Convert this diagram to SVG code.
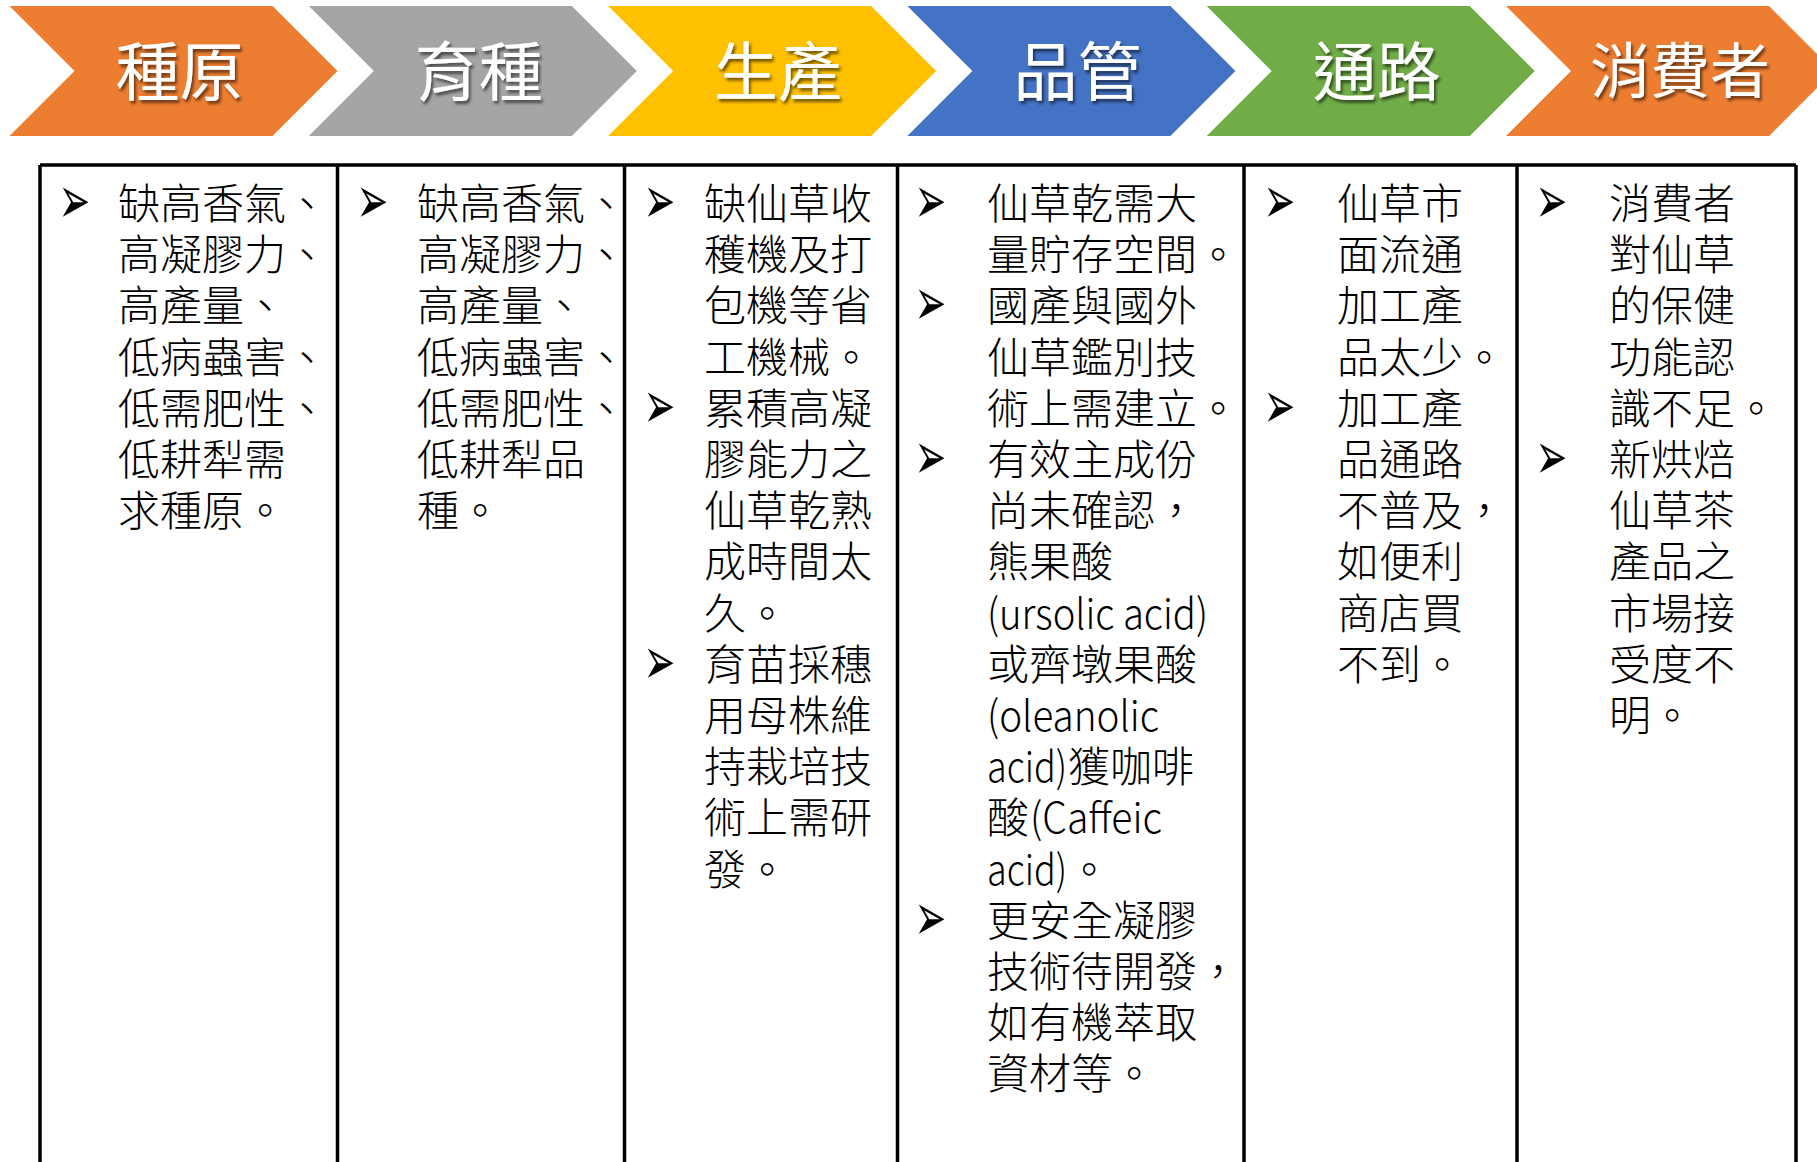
<svg xmlns="http://www.w3.org/2000/svg" width="1817" height="1162" viewBox="0 0 1817 1162">
<defs>
<filter id="sh" x="-10%" y="-10%" width="130%" height="140%">
<feDropShadow dx="2" dy="3" stdDeviation="1.5" flood-color="#000" flood-opacity="0.55"/>
</filter>
</defs>
<style>
.lbl{font-family:"Noto Sans CJK TC","Noto Sans CJK SC",sans-serif;font-size:64px;fill:#fff;text-anchor:middle;filter:url(#sh)}
.t{font-family:"Noto Sans CJK TC","Noto Sans CJK SC",sans-serif;font-size:42px;font-weight:300;fill:#000}
.b{font-family:"DejaVu Sans",sans-serif;font-size:38px;fill:#000}
.grid{stroke:#000;stroke-width:3.5;fill:none}
</style>
<rect width="1817" height="1162" fill="#fff"/>
<g id="stage-1"><path d="M9.5,6 H272.5 L337.5,71 L272.5,136 H9.5 L74.5,71 Z" fill="#ED7D31"/><text class="lbl" x="179.5" y="95">種原</text></g>
<g id="stage-2"><path d="M308.8,6 H571.8 L636.8,71 L571.8,136 H308.8 L373.8,71 Z" fill="#A5A5A5"/><text class="lbl" x="478.8" y="95">育種</text></g>
<g id="stage-3"><path d="M608.1,6 H871.1 L936.1,71 L871.1,136 H608.1 L673.1,71 Z" fill="#FFC000"/><text class="lbl" x="778.1" y="95">生產</text></g>
<g id="stage-4"><path d="M907.4,6 H1170.4 L1235.4,71 L1170.4,136 H907.4 L972.4,71 Z" fill="#4472C4"/><text class="lbl" x="1077.4" y="95">品管</text></g>
<g id="stage-5"><path d="M1206.7,6 H1469.7 L1534.7,71 L1469.7,136 H1206.7 L1271.7,71 Z" fill="#70AD47"/><text class="lbl" x="1376.7" y="95">通路</text></g>
<g id="stage-6"><path d="M1506,6 H1769 L1834,71 L1769,136 H1506 L1571,71 Z" fill="#ED7D31"/><text class="lbl" x="1680" y="93" style="font-size:60px">消費者</text></g>
<g id="connectors"></g>
<g id="table-grid" class="grid">
<path d="M40,165 H1796"/>
<path d="M40,165 V1162 M337.5,165 V1162 M624.5,165 V1162 M897.5,165 V1162 M1244,165 V1162 M1517,165 V1162 M1796,165 V1162"/>
</g>
<g id="col-1">
<text class="b" transform="translate(58.5,222.8) scale(1,1.75)">➢</text>
<text class="t"><tspan x="118" y="219">缺高香氣、</tspan><tspan x="118" y="270.2">高凝膠力、</tspan><tspan x="118" y="321.4">高產量、</tspan><tspan x="118" y="372.6">低病蟲害、</tspan><tspan x="118" y="423.8">低需肥性、</tspan><tspan x="118" y="475">低耕犁需</tspan><tspan x="118" y="526.2">求種原。</tspan></text>
</g>
<g id="col-2">
<text class="b" transform="translate(356.5,222.8) scale(1,1.75)">➢</text>
<text class="t"><tspan x="417" y="219">缺高香氣、</tspan><tspan x="417" y="270.2">高凝膠力、</tspan><tspan x="417" y="321.4">高產量、</tspan><tspan x="417" y="372.6">低病蟲害、</tspan><tspan x="417" y="423.8">低需肥性、</tspan><tspan x="417" y="475">低耕犁品</tspan><tspan x="417" y="526.2">種。</tspan></text>
</g>
<g id="col-3">
<text class="b" transform="translate(643.5,222.8) scale(1,1.75)">➢</text>
<text class="b" transform="translate(643.5,427.6) scale(1,1.75)">➢</text>
<text class="b" transform="translate(643.5,683.6) scale(1,1.75)">➢</text>
<text class="t"><tspan x="704" y="219">缺仙草收</tspan><tspan x="704" y="270.2">穫機及打</tspan><tspan x="704" y="321.4">包機等省</tspan><tspan x="704" y="372.6">工機械。</tspan><tspan x="704" y="423.8">累積高凝</tspan><tspan x="704" y="475">膠能力之</tspan><tspan x="704" y="526.2">仙草乾熟</tspan><tspan x="704" y="577.4">成時間太</tspan><tspan x="704" y="628.6">久。</tspan><tspan x="704" y="679.8">育苗採穗</tspan><tspan x="704" y="731">用母株維</tspan><tspan x="704" y="782.2">持栽培技</tspan><tspan x="704" y="833.4">術上需研</tspan><tspan x="704" y="884.6">發。</tspan></text>
</g>
<g id="col-4">
<text class="b" transform="translate(914.5,222.8) scale(1,1.75)">➢</text>
<text class="b" transform="translate(914.5,325.2) scale(1,1.75)">➢</text>
<text class="b" transform="translate(914.5,478.8) scale(1,1.75)">➢</text>
<text class="b" transform="translate(914.5,939.6) scale(1,1.75)">➢</text>
<text class="t"><tspan x="987" y="219">仙草乾需大</tspan><tspan x="987" y="270.2">量貯存空間。</tspan><tspan x="987" y="321.4">國產與國外</tspan><tspan x="987" y="372.6">仙草鑑別技</tspan><tspan x="987" y="423.8">術上需建立。</tspan><tspan x="987" y="475">有效主成份</tspan><tspan x="987" y="526.2">尚未確認，</tspan><tspan x="987" y="577.4">熊果酸</tspan></text>
<text class="t" x="987" y="628.6" textLength="221" lengthAdjust="spacingAndGlyphs">(ursolic acid)</text>
<text class="t" x="987" y="679.8">或齊墩果酸</text>
<text class="t" x="987" y="731" textLength="172" lengthAdjust="spacingAndGlyphs">(oleanolic</text>
<text class="t" x="987" y="782.2" textLength="80" lengthAdjust="spacingAndGlyphs">acid)</text>
<text class="t" x="1068" y="782.2">獲咖啡</text>
<text class="t" x="987" y="833.4">酸</text>
<text class="t" x="1030" y="833.4" textLength="132" lengthAdjust="spacingAndGlyphs">(Caffeic</text>
<text class="t" x="987" y="884.6" textLength="80" lengthAdjust="spacingAndGlyphs">acid)</text>
<text class="t" x="1068" y="884.6">。</text>
<text class="t"><tspan x="987" y="935.8">更安全凝膠</tspan><tspan x="987" y="987">技術待開發，</tspan><tspan x="987" y="1038.2">如有機萃取</tspan><tspan x="987" y="1089.4">資材等。</tspan></text>
</g>
<g id="col-5">
<text class="b" transform="translate(1263.5,222.8) scale(1,1.75)">➢</text>
<text class="b" transform="translate(1263.5,427.6) scale(1,1.75)">➢</text>
<text class="t"><tspan x="1337" y="219">仙草市</tspan><tspan x="1337" y="270.2">面流通</tspan><tspan x="1337" y="321.4">加工產</tspan><tspan x="1337" y="372.6">品太少。</tspan><tspan x="1337" y="423.8">加工產</tspan><tspan x="1337" y="475">品通路</tspan><tspan x="1337" y="526.2">不普及，</tspan><tspan x="1337" y="577.4">如便利</tspan><tspan x="1337" y="628.6">商店買</tspan><tspan x="1337" y="679.8">不到。</tspan></text>
</g>
<g id="col-6">
<text class="b" transform="translate(1535.5,222.8) scale(1,1.75)">➢</text>
<text class="b" transform="translate(1535.5,478.8) scale(1,1.75)">➢</text>
<text class="t"><tspan x="1609" y="219">消費者</tspan><tspan x="1609" y="270.2">對仙草</tspan><tspan x="1609" y="321.4">的保健</tspan><tspan x="1609" y="372.6">功能認</tspan><tspan x="1609" y="423.8">識不足。</tspan><tspan x="1609" y="475">新烘焙</tspan><tspan x="1609" y="526.2">仙草茶</tspan><tspan x="1609" y="577.4">產品之</tspan><tspan x="1609" y="628.6">市場接</tspan><tspan x="1609" y="679.8">受度不</tspan><tspan x="1609" y="731">明。</tspan></text>
</g>
</svg>
